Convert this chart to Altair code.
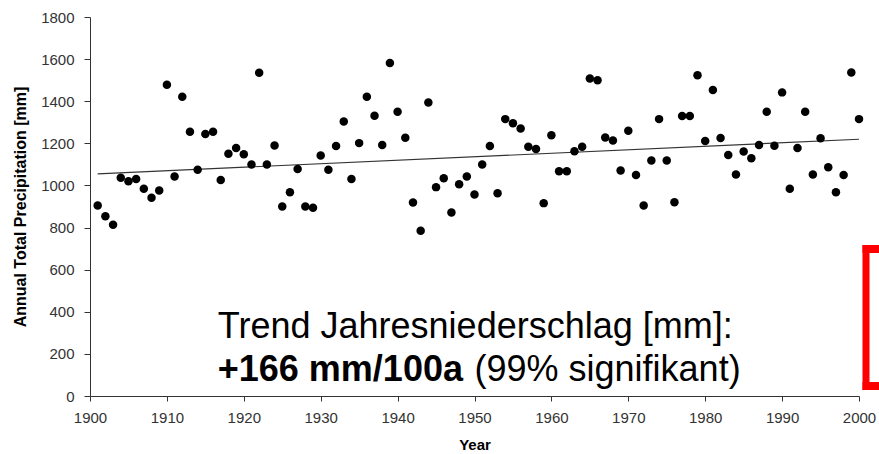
import altair as alt
import pandas as pd

# Annual total precipitation, 1901-2000 (mm)
years = list(range(1901, 2001))
precip = [
    905, 854, 813, 1036, 1020, 1031, 984, 941, 976, 1478,
    1042, 1421, 1255, 1075, 1244, 1255, 1026, 1150, 1178, 1148,
    1099, 1535, 1099, 1190, 900, 968, 1078, 900, 894, 1142,
    1075, 1187, 1304, 1031, 1201, 1421, 1331, 1192, 1582, 1350,
    1227, 919, 785, 1394, 992, 1034, 872, 1006, 1042, 957,
    1099, 1187, 963, 1315, 1295, 1270, 1184, 1173, 916, 1238,
    1067, 1067, 1162, 1184, 1508, 1500, 1228, 1213, 1071, 1260,
    1050, 905, 1118, 1315, 1118, 920, 1330, 1330, 1523, 1211,
    1453, 1225, 1145, 1052, 1161, 1129, 1192, 1350, 1189, 1442,
    984, 1178, 1350, 1052, 1224, 1086, 968, 1050, 1536, 1315,
]

# Linear trend: +166 mm per 100 years
trend_per_year = 166 / 100
trend_start = 1055
trend_years = [years[0], years[-1]]
trend_values = [trend_start + trend_per_year * (y - years[0]) for y in trend_years]

y_ticks = list(range(0, 1801, 200))
x_ticks = list(range(1900, 2001, 10))

FONT = "Liberation Sans"

df = pd.DataFrame({"Year": years, "Precip": precip})
trend_df = pd.DataFrame({"Year": trend_years, "Precip": trend_values})

x_scale = alt.Scale(domain=[1900, 2000], nice=False, zero=False)
y_scale = alt.Scale(domain=[0, 1800], nice=False)

x_axis = alt.Axis(
    title="Year", values=x_ticks, format="d", grid=False, labelFlush=False,
    tickSize=5, labelPadding=9, labelFontSize=15, labelColor="#333",
    titleFontSize=15, titleFontWeight="bold", titlePadding=12,
    domainColor="#333", tickColor="#333", labelFont=FONT, titleFont=FONT,
)
y_axis = alt.Axis(
    title="Annual Total Precipitation [mm]", values=y_ticks, format="d", grid=False,
    labelFlush=False,
    tickSize=6, labelPadding=10, labelFontSize=15, labelColor="#333",
    titleFontSize=16, titleFontWeight="bold", titlePadding=12,
    domainColor="#333", tickColor="#333", labelFont=FONT, titleFont=FONT,
)

points = alt.Chart(df).mark_circle(size=72, color="black", opacity=1).encode(
    x=alt.X("Year:Q", scale=x_scale, axis=x_axis),
    y=alt.Y("Precip:Q", scale=y_scale, axis=y_axis),
)

trend = alt.Chart(trend_df).mark_line(color="#333", strokeWidth=1.1).encode(
    x="Year:Q", y="Precip:Q"
)

# Annotation text
line1 = alt.Chart(pd.DataFrame({"Year": [1950.1], "Precip": [276], "t": ["Trend Jahresniederschlag [mm]:"]})).mark_text(
    font=FONT, fontSize=36, align="center", baseline="alphabetic", color="black"
).encode(x="Year:Q", y="Precip:Q", text="t:N")

line2_bold = alt.Chart(pd.DataFrame({"Year": [1948.5], "Precip": [71], "t": ["+166 mm/100a"]})).mark_text(
    font=FONT, fontSize=36, fontWeight="bold", align="right", baseline="alphabetic", color="black"
).encode(x="Year:Q", y="Precip:Q", text="t:N")

line2_reg = alt.Chart(pd.DataFrame({"Year": [1950.0], "Precip": [71], "t": ["(99% signifikant)"]})).mark_text(
    font=FONT, fontSize=36, align="left", baseline="alphabetic", color="black"
).encode(x="Year:Q", y="Precip:Q", text="t:N")

# Red bracket at the right edge
bracket_v = alt.Chart(pd.DataFrame({"k": [0]})).mark_rule(color="#ff0000", strokeWidth=7).encode(
    x=alt.value(776), y=alt.value(228), y2=alt.value(373)
)
bracket_top = alt.Chart(pd.DataFrame({"k": [0]})).mark_rule(color="#ff0000", strokeWidth=8).encode(
    x=alt.value(772.5), x2=alt.value(792), y=alt.value(232)
)
bracket_bot = alt.Chart(pd.DataFrame({"k": [0]})).mark_rule(color="#ff0000", strokeWidth=8).encode(
    x=alt.value(772.5), x2=alt.value(792), y=alt.value(369)
)

chart = alt.layer(
    trend, points, line1, line2_bold, line2_reg, bracket_v, bracket_top, bracket_bot
).properties(
    width=769, height=379,
    autosize=alt.AutoSizeParams(type="none"),
    padding={"left": 90, "top": 17, "right": 20, "bottom": 58},
    background="white",
).configure_view(stroke=None)

chart.save("out.html", embed_options={"renderer": "svg", "actions": False})
